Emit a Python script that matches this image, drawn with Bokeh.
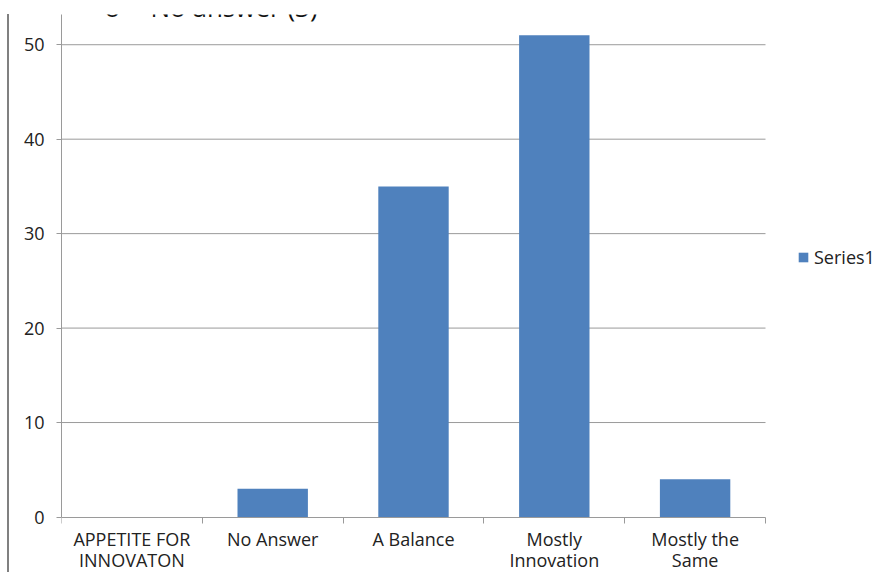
from bokeh.plotting import figure
from bokeh.models import (Range1d, FixedTicker, Label, Legend, LegendItem,
                          ColumnDataSource, Div, LinearAxis)
from bokeh.layouts import row
from bokeh.embed import file_html
from bokeh.resources import INLINE

categories = ["APPETITE FOR\nINNOVATON", "No Answer", "A Balance", "Mostly\nInnovation", "Mostly the\nSame"]
values = [0, 3, 35, 51, 4]
y_ticks = [0, 10, 20, 30, 40, 50]
series_name = "Series1"
heading = "No answer (3)"

FONT = "Open Sans"
FS = "18px"
BAR = "#4F81BD"
GRID = "#9a9a9a"
TXT = "#222222"

n = len(categories)
centers = [i + 0.5 for i in range(n)]
bounds = list(range(n + 1))
src = ColumnDataSource(dict(x=centers, top=values))

PAGE_W, PAGE_H = 885, 572
RULE_X, RULE_W = 7, 2
FIG_W = PAGE_W - RULE_X - RULE_W
LEFT = 52
TOP = 14
PLOT_W = 704          # px width of the category area
ZERO_PX = 502.5       # px from frame top down to the zero line
Y_TOP = 53.2
x_end = n * (FIG_W - LEFT) / PLOT_W
y_lo = Y_TOP - (PAGE_H - TOP) * Y_TOP / ZERO_PX

p = figure(width=FIG_W, height=PAGE_H, output_backend="svg", toolbar_location=None,
           x_range=Range1d(0, x_end), y_range=Range1d(y_lo, Y_TOP),
           x_axis_location=None,
           min_border_left=LEFT, min_border_right=0, min_border_top=TOP, min_border_bottom=0)
p.outline_line_color = None
p.background_fill_color = "white"
p.border_fill_color = "white"
p.xgrid.grid_line_color = None
p.ygrid.grid_line_color = None

# horizontal grid lines, limited to the category area
gl = [t for t in y_ticks if t > 0]
p.segment(x0=[0] * len(gl), x1=[n] * len(gl), y0=gl, y1=gl, line_color=GRID, line_width=1)

r = p.vbar(x="x", top="top", width=0.5, bottom=0, source=src, fill_color=BAR, line_color=None)

# y axis
ya = p.yaxis[0]
ya.bounds = (0, Y_TOP)
ya.ticker = FixedTicker(ticks=y_ticks)
ya.axis_line_color = GRID
ya.major_tick_line_color = GRID
ya.major_tick_out = 5
ya.major_tick_in = 0
ya.minor_tick_line_color = None
ya.major_label_standoff = 12
ya.major_label_text_font = FONT
ya.major_label_text_font_size = FS
ya.major_label_text_color = TXT

# x axis crossing at y = 0: labels at centers, ticks at category boundaries
xa = LinearAxis(fixed_location=0)
xa.bounds = (0, n)
xa.ticker = FixedTicker(ticks=centers, minor_ticks=bounds)
xa.major_label_overrides = {c: lab for c, lab in zip(centers, categories)}
xa.axis_line_color = GRID
xa.major_tick_line_color = None
xa.major_tick_out = 0
xa.major_tick_in = 0
xa.minor_tick_line_color = GRID
xa.minor_tick_out = 6
xa.minor_tick_in = 0
xa.major_label_standoff = 4
xa.major_label_text_font = FONT
xa.major_label_text_font_size = FS
xa.major_label_text_color = TXT
xa.major_label_text_line_height = 0.88
p.add_layout(xa, "below")

# partially visible heading above the chart (cut by the top edge, as in the source)
p.add_layout(Label(x=95, y=6, x_units="canvas", y_units="canvas", text="o",
                   text_font=FONT, text_font_size="26px", text_baseline="alphabetic",
                   text_color="#111111"))
p.add_layout(Label(x=141, y=6, x_units="canvas", y_units="canvas", text=heading,
                   text_font=FONT, text_font_size="26px", text_baseline="alphabetic",
                   text_color="#111111"))

legend = Legend(items=[LegendItem(label=series_name, renderers=[r])],
                location=(736, 303), padding=0, margin=0, border_line_color=None,
                background_fill_alpha=0, glyph_width=12, glyph_height=12,
                label_standoff=5, label_text_font=FONT, label_text_font_size=FS,
                label_text_color=TXT)
p.add_layout(legend, "center")

# thin vertical rule at the left edge of the page
rule = Div(width=RULE_W, height=PAGE_H - TOP, margin=(TOP, 0, 0, RULE_X),
           styles={"background-color": "#808080"})

layout = row(rule, p, spacing=0)
open("out.html", "w").write(file_html(layout, INLINE))
